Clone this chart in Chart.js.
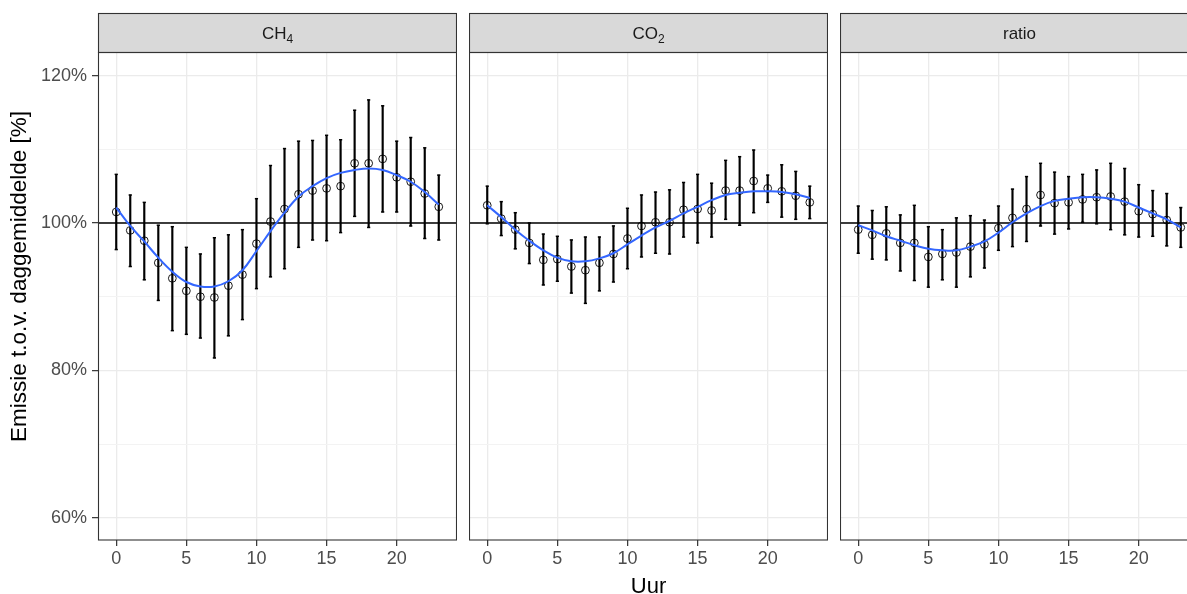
<!DOCTYPE html>
<html><head><meta charset="utf-8">
<script src="https://cdn.jsdelivr.net/npm/chart.js@4.4.1/dist/chart.umd.min.js"></script>
<style>
html,body{margin:0;padding:0;width:1187px;height:594px;overflow:hidden;background:#fff;}
canvas{position:absolute;top:0;}
</style></head><body>
<canvas id="c1" width="457" height="600" style="left:0px;width:457px;height:600px"></canvas>
<canvas id="c2" width="359" height="600" style="left:469px;width:359px;height:600px"></canvas>
<canvas id="c3" width="359" height="600" style="left:840px;width:359px;height:600px"></canvas>
<script>
// ---- data ----
const HOURS = [0,1,2,3,4,5,6,7,8,9,10,11,12,13,14,15,16,17,18,19,20,21,22,23];

const CH4_MEAN = [101.5,99.0,97.6,94.6,92.5,90.8,90.0,89.9,91.5,93.0,97.2,100.2,101.9,103.9,104.4,104.7,105.0,108.1,108.1,108.7,106.2,105.6,104.0,102.2];
const CH4_HI   = [106.6,103.8,102.8,99.7,99.5,96.7,95.8,98.0,98.4,99.1,103.3,107.8,110.1,111.1,111.2,111.9,111.3,115.3,116.7,115.9,111.1,111.6,110.2,106.5];
const CH4_LO   = [96.4,94.1,92.3,89.5,85.4,84.9,84.4,81.7,84.7,86.9,91.1,92.7,93.8,96.7,97.7,97.6,98.7,100.9,99.4,101.5,101.5,99.6,97.9,97.7];
const CH4_FIT  = [102.1,99.6,97.5,95.3,93.4,92.0,91.4,91.4,92.1,93.6,96.2,98.9,101.4,103.6,105.0,106.1,106.8,107.2,107.4,107.2,106.5,105.6,104.2,102.5];

const CO2_MEAN = [102.4,100.6,99.1,97.3,95.0,95.1,94.1,93.6,94.6,95.8,97.9,99.6,100.1,100.1,101.8,101.9,101.7,104.4,104.4,105.7,104.7,104.3,103.7,102.8];
const CO2_HI   = [105.0,102.9,101.4,100.0,98.5,98.2,97.7,98.1,98.1,99.6,102.0,103.8,104.2,104.5,105.5,106.6,105.4,108.5,109.0,109.9,106.5,107.9,107.0,105.0];
const CO2_LO   = [99.9,98.3,96.5,94.5,91.6,92.1,90.5,89.1,90.8,92.0,93.8,95.4,95.9,95.8,98.1,97.3,98.1,100.5,99.7,101.4,102.8,100.8,100.5,100.6];
const CO2_FIT  = [102.4,100.8,99.1,97.6,96.3,95.3,94.8,94.8,95.2,95.9,97.1,98.3,99.4,100.3,101.3,102.2,103.1,103.8,104.1,104.3,104.3,104.2,103.9,103.4];

const RATIO_MEAN = [99.1,98.4,98.6,97.3,97.3,95.4,95.8,96.0,96.8,97.1,99.3,100.7,101.9,103.8,102.7,102.8,103.2,103.5,103.6,102.9,101.6,101.2,100.4,99.4];
const RATIO_HI   = [102.3,101.7,102.2,101.1,102.4,99.5,99.1,100.7,101.0,100.4,102.3,104.6,106.3,108.1,106.9,106.3,106.6,107.2,108.1,107.4,105.2,104.4,104.0,102.1];
const RATIO_LO   = [95.9,95.1,95.0,93.5,92.2,91.3,92.3,91.3,92.7,93.9,96.3,96.8,97.5,99.6,98.5,99.2,100.1,99.9,99.1,98.4,98.1,98.2,96.9,96.7];
const RATIO_FIT  = [99.7,99.0,98.2,97.6,97.0,96.5,96.3,96.3,96.8,97.5,98.7,100.1,101.3,102.3,103.0,103.3,103.5,103.5,103.3,102.9,102.1,101.3,100.5,99.4];

const PANEL_MAIN = ['CH', 'CO', 'ratio'];
const PANEL_SUB  = ['4', '2', ''];
const REF_LEVEL = 100;
const X_MIN = -1.3, X_MAX = 24.3;
const Y_MIN = 57.0, Y_MAX = 123.2;
const X_STEP = 5, Y_STEP = 10, Y_LABEL_STEP = 20;
const Y_TITLE = 'Emissie t.o.v. daggemiddelde [%]';
const X_TITLE = 'Uur';

// ---- rendering ----
const FONT = '"Liberation Sans", Arial, Helvetica, sans-serif';

function pts(ys){ return HOURS.map((h,i)=>({x:h,y:ys[i]})); }
function rng(lo,hi){ return HOURS.map((h,i)=>({x:h,y:[lo[i],hi[i]]})); }

const decoPlugin = {
  id:'deco',
  afterDraw(chart, args, o){
    const ctx = chart.ctx, a = chart.chartArea;
    const w = a.right - a.left;
    ctx.save();
    // strip
    ctx.fillStyle = '#d9d9d9';
    ctx.fillRect(a.left, o.stripTop, w, a.top - o.stripTop);
    ctx.strokeStyle = '#333333';
    ctx.lineWidth = 1.1;
    ctx.strokeRect(a.left + 0.5, o.stripTop + 0.5, w - 1, a.top - o.stripTop);
    // panel border
    ctx.strokeRect(a.left + 0.5, a.top + 0.5, w - 1, a.bottom - a.top - 0.5);
    // strip label
    ctx.fillStyle = '#1a1a1a';
    const mainF = '17px ' + FONT, subF = '12px ' + FONT;
    ctx.font = mainF; const mw = ctx.measureText(o.main).width;
    ctx.font = subF; const sw = o.sub ? ctx.measureText(o.sub).width : 0;
    const cx = (a.left + a.right) / 2;
    const base = (o.stripTop + a.top) / 2 + 6;
    let x0 = cx - (mw + sw) / 2;
    ctx.textBaseline = 'alphabetic'; ctx.textAlign = 'left';
    ctx.font = mainF; ctx.fillText(o.main, x0, base);
    if (o.sub){ ctx.font = subF; ctx.fillText(o.sub, x0 + mw, base + 4); }
    // y-axis title (spans strip + panel, like the facet layout)
    if (o.yTitle){
      ctx.save();
      ctx.translate(20, (o.stripTop + a.bottom) / 2);
      ctx.rotate(-Math.PI / 2);
      ctx.fillStyle = '#000';
      ctx.font = '22.5px ' + FONT;
      ctx.textAlign = 'center'; ctx.textBaseline = 'middle';
      ctx.fillText(o.yTitle, 0, 0);
      ctx.restore();
    }
    ctx.restore();
  }
};

function makeChart(id, idx, mean, lo, hi, fit){
  const first = idx === 0, mid = idx === 1;
  const yAxis = {
    type:'linear', min:Y_MIN, max:Y_MAX,
    border:{display:false},
    ticks:{
      stepSize:Y_STEP, includeBounds:false, display:first, autoSkip:false,
      color:'#4d4d4d', font:{family:FONT, size:18}, padding:5,
      callback:(v)=> (v % Y_LABEL_STEP === 0) ? v + '%' : ''
    },
    grid:{
      color:(c)=> (c.tick && c.tick.value % Y_LABEL_STEP === 0) ? '#ebebeb' : '#f3f3f3',
      lineWidth:(c)=> (c.tick && c.tick.value % Y_LABEL_STEP === 0) ? 1.3 : 1,
      drawTicks:first,
      tickColor:(c)=> (c.tick && c.tick.value % Y_LABEL_STEP === 0) ? '#333333' : 'rgba(0,0,0,0)',
      tickLength:6, tickWidth:1.2
    },
    title:{display:false},
    afterFit(s){ s.width = first ? 98 : 0; s.paddingTop = 0; s.paddingBottom = 0; }
  };
  const xAxis = {
    type:'linear', min:X_MIN, max:X_MAX, offset:false,
    border:{display:false},
    ticks:{stepSize:X_STEP, includeBounds:false, color:'#4d4d4d', font:{family:FONT, size:18}, padding:2, maxRotation:0, autoSkip:false},
    grid:{color:'#ebebeb', lineWidth:1.3, tickColor:'#333333', tickLength:6, tickWidth:1.2, offset:false},
    title:{display:mid, text:X_TITLE, color:'#000', font:{family:FONT, size:22}, padding:{top:0, bottom:0}},
    afterFit(s){ s.height = 60; s.paddingLeft = 0; s.paddingRight = 0; }
  };
  return new Chart(document.getElementById(id), {
    type:'scatter',
    data:{ datasets:[
      { type:'line', data:pts(fit), borderColor:'#3366FF', borderWidth:2, tension:0.4, pointRadius:0, fill:false },
      { type:'scatter', data:pts(mean), pointStyle:'circle', pointRadius:3.9, pointBorderWidth:0.9, borderColor:'#000', backgroundColor:'rgba(0,0,0,0)', pointBackgroundColor:'rgba(0,0,0,0)' },
      { type:'scatter', data:pts(hi), pointStyle:'line', pointRadius:1.6, borderWidth:1.5, borderColor:'#000' },
      { type:'scatter', data:pts(lo), pointStyle:'line', pointRadius:1.6, borderWidth:1.5, borderColor:'#000' },
      { type:'bar', data:rng(lo,hi), backgroundColor:'#000', borderWidth:0, barThickness:1.5, grouped:false },
      { type:'line', data:[{x:X_MIN,y:REF_LEVEL},{x:X_MAX,y:REF_LEVEL}], borderColor:'#000', borderWidth:1.4, pointRadius:0, tension:0 }
    ]},
    options:{
      responsive:false, animation:false, devicePixelRatio:1,
      layout:{autoPadding:false, padding:{top:52, left:0, right:0, bottom:0}},
      plugins:{ legend:{display:false}, tooltip:{enabled:false},
        deco:{ stripTop:13, main:PANEL_MAIN[idx], sub:PANEL_SUB[idx], yTitle: first ? Y_TITLE : '' } },
      scales:{ x:xAxis, y:yAxis }
    },
    plugins:[decoPlugin]
  });
}

makeChart('c1', 0, CH4_MEAN, CH4_LO, CH4_HI, CH4_FIT);
makeChart('c2', 1, CO2_MEAN, CO2_LO, CO2_HI, CO2_FIT);
makeChart('c3', 2, RATIO_MEAN, RATIO_LO, RATIO_HI, RATIO_FIT);
</script>
</body></html>
